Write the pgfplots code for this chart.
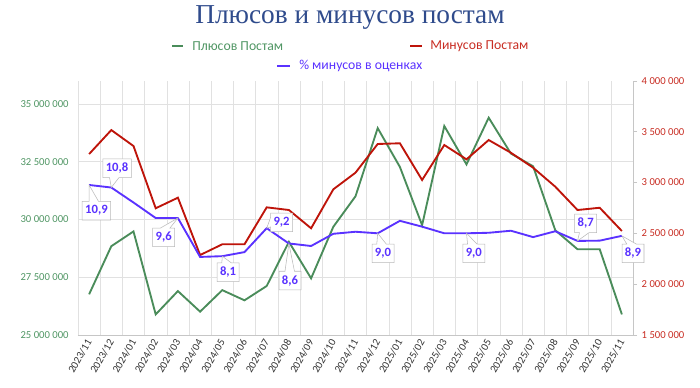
\documentclass[border=0pt]{standalone}
\usepackage{pgfplots}
\pgfplotsset{compat=1.18}
\usepackage{pgfplotstable}
\usepackage{fontspec}
\setmainfont{Carlito}
\newfontfamily\titlefont{Liberation Serif}
\usetikzlibrary{shapes.callouts}
\definecolor{cgreen}{RGB}{74,140,90}
\definecolor{cred}{RGB}{190,20,10}
\definecolor{cblue}{RGB}{90,50,255}
\definecolor{cgreentick}{RGB}{80,150,100}
\definecolor{credtick}{RGB}{200,45,35}
\definecolor{ctitle}{RGB}{47,75,140}
\definecolor{cgrid}{RGB}{225,225,225}

\pgfplotstableread{
x plus minus pct
0 26.76e6 3.279e6 10.9
1 28.84e6 3.515e6 10.8
2 29.48e6 3.358e6 10.21
3 25.89e6 2.746e6 9.6
4 26.90e6 2.850e6 9.6
5 26.01e6 2.286e6 8.07
6 26.94e6 2.392e6 8.1
7 26.50e6 2.392e6 8.26
8 27.12e6 2.755e6 9.2
9 29.03e6 2.729e6 8.6
10 27.45e6 2.549e6 8.5
11 29.68e6 2.932e6 8.98
12 31.00e6 3.096e6 9.06
13 33.95e6 3.378e6 9.0
14 32.27e6 3.385e6 9.49
15 29.75e6 3.024e6 9.26
16 34.04e6 3.368e6 9.0
17 32.38e6 3.227e6 9.0
18 34.40e6 3.417e6 9.02
19 32.85e6 3.292e6 9.10
20 32.30e6 3.145e6 8.85
21 29.53e6 2.958e6 9.08
22 28.71e6 2.729e6 8.7
23 28.71e6 2.751e6 8.71
24 25.89e6 2.522e6 8.9
}\datatable

\tikzset{
  callout/.style={rectangle callout, draw=gray!55, fill=white, text=cblue,
    font=\bfseries\fontsize{9.5}{10}\selectfont, inner sep=2.2pt, minimum height=14pt},
}
\pgfplotsset{
  base/.style={at={(58.5pt,39.75pt)}, anchor=south west, scale only axis,
    width=416.25pt, height=190.7pt, xmin=-0.5, xmax=24.5, clip=false,
    scaled y ticks=false,
    tick label style={font=\fontsize{8}{9}\selectfont},
    /pgf/number format/assume math mode=true},
}

\begin{document}
\begin{tikzpicture}
\useasboundingbox (0,0) rectangle (525pt,291pt);
\begin{axis}[base, ymin=25e6, ymax=36e6,
  ytick={25e6,27.5e6,30e6,32.5e6,35e6},
  yticklabels={25 000 000,27 500 000,30 000 000,32 500 000,35 000 000},
  yticklabel style={text=cgreentick, xshift=-3.5pt},
  axis x line*=bottom, axis y line*=left,
  y axis line style={draw=none}, x axis line style={draw=gray!45, -},
  ytick style={draw=none}, xtick style={draw=none}, minor tick length=0pt,
  ymajorgrids, major grid style={cgrid},
  minor xtick={-0.5,0.5,...,24.5}, xminorgrids, minor grid style={cgrid},
  xtick={0,...,24},
  xticklabels={2023/11,2023/12,2024/01,2024/02,2024/03,2024/04,2024/05,2024/06,2024/07,2024/08,2024/09,2024/10,2024/11,2024/12,2025/01,2025/02,2025/03,2025/04,2025/05,2025/06,2025/07,2025/08,2025/09,2025/10,2025/11},
  xticklabel style={rotate=60, anchor=east, text=black!80, yshift=-2pt},
]
\addplot[cgreen, line width=1.4pt, mark=none] table[x=x, y=plus] {\datatable};
\end{axis}

\begin{axis}[base, ymin=1.5e6, ymax=4e6,
  ytick={1.5e6,2e6,2.5e6,3e6,3.5e6,4e6},
  yticklabels={1 500 000,2 000 000,2 500 000,3 000 000,3 500 000,4 000 000},
  yticklabel style={text=credtick},
  axis x line=none, axis y line*=right,
  y axis line style={draw=gray!45, -}, ytick style={draw=gray!45},
  tick align=outside, major tick length=3pt,
]
\addplot[cred, line width=1.4pt, mark=none] table[x=x, y=minus] {\datatable};
\end{axis}

\begin{axis}[base, ymin=5, ymax=15, hide axis]
\addplot[cblue, line width=1.4pt, mark=none] table[x=x, y=pct] {\datatable};
\node[callout, callout absolute pointer={(axis cs:0,10.9)}] at (axis cs:0.33,9.89) {10,9};
\node[callout, callout absolute pointer={(axis cs:1,10.8)}] at (axis cs:1.26,11.56) {10,8};
\node[callout, callout absolute pointer={(axis cs:4,9.6)}] at (axis cs:3.36,8.84) {9,6};
\node[callout, callout absolute pointer={(axis cs:6,8.1)}] at (axis cs:6.26,7.47) {8,1};
\node[callout, callout absolute pointer={(axis cs:8,9.2)}] at (axis cs:8.67,9.43) {9,2};
\node[callout, callout absolute pointer={(axis cs:9,8.6)}] at (axis cs:9.05,7.14) {8,6};
\node[callout, callout absolute pointer={(axis cs:13,9.0)}] at (axis cs:13.24,8.21) {9,0};
\node[callout, callout absolute pointer={(axis cs:17,9.0)}] at (axis cs:17.33,8.21) {9,0};
\node[callout, callout absolute pointer={(axis cs:22,8.7)}] at (axis cs:22.37,9.39) {8,7};
\node[callout, callout absolute pointer={(axis cs:24,8.9)}] at (axis cs:24.5,8.21) {8,9};
\end{axis}

\node[font=\titlefont\fontsize{20.5}{24}\selectfont, text=ctitle] at (262.5pt,277.5pt) {Плюсов и минусов постам};
\draw[cgreen, line width=1.4pt] (129pt,256.5pt) -- (137.5pt,256.5pt);
\node[anchor=west, text=cgreentick, font=\fontsize{10.3}{12}\selectfont, inner sep=0pt] at (144pt,256.5pt) {Плюсов Постам};
\draw[cred, line width=1.4pt] (307.5pt,256.5pt) -- (316.5pt,256.5pt);
\node[anchor=west, text=credtick, font=\fontsize{10.3}{12}\selectfont, inner sep=0pt] at (322.5pt,256.5pt) {Минусов Постам};
\draw[cblue, line width=1.4pt] (207.75pt,241.5pt) -- (217.5pt,241.5pt);
\node[anchor=west, text=cblue, font=\fontsize{10.3}{12}\selectfont, inner sep=0pt] at (224.25pt,241.5pt) {\% минусов в оценках};
\end{tikzpicture}
\end{document}
